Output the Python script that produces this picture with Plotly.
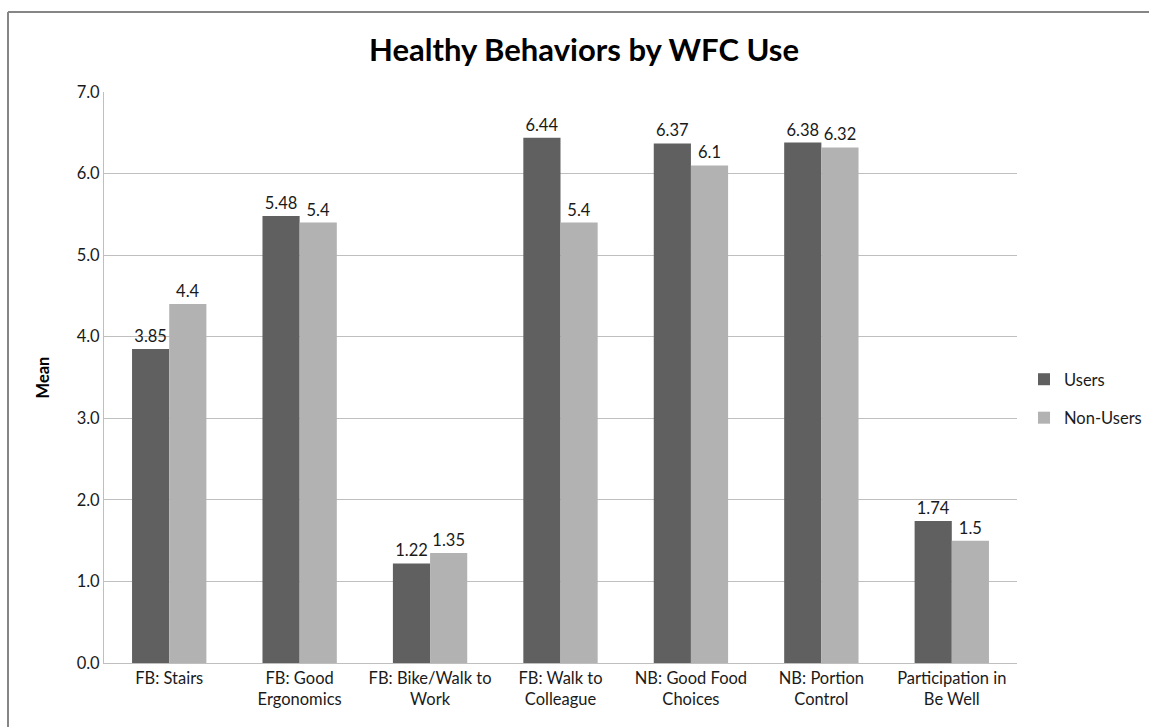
import plotly.graph_objects as go

categories = [
    "FB: Stairs",
    "FB: Good<br>Ergonomics",
    "FB: Bike/Walk to<br>Work",
    "FB: Walk to<br>Colleague",
    "NB: Good Food<br>Choices",
    "NB: Portion<br>Control",
    "Participation in<br>Be Well",
]
users = [3.85, 5.48, 1.22, 6.44, 6.37, 6.38, 1.74]
non_users = [4.4, 5.4, 1.35, 5.4, 6.1, 6.32, 1.5]
y_ticks = [0, 1, 2, 3, 4, 5, 6, 7]

W, H = 1149, 727
L, R, T, B = 104, 132, 92, 64
FONT = "Lato, Carlito, Calibri, sans-serif"
FS = 16.5

fig = go.Figure()
fig.add_trace(go.Bar(
    name="Users", x=categories, y=users, legendgroup="u",
    marker=dict(color="#606060", line=dict(width=0)),
    text=[f"{v:g}" for v in users], textposition="outside",
    textfont=dict(size=FS, color="#1a1a1a", family=FONT), cliponaxis=False,
))
fig.add_trace(go.Bar(
    name="Non-Users", x=categories, y=non_users, legendgroup="n",
    marker=dict(color="#b2b2b2", line=dict(width=0)),
    text=[f"{v:g}" for v in non_users], textposition="outside",
    textfont=dict(size=FS, color="#1a1a1a", family=FONT), cliponaxis=False,
))

pw = W - L - R
ph = H - T - B
def px(x):
    return (x - L) / pw
def py(y):
    return (H - B - y) / ph

fig.update_layout(
    width=W, height=H,
    margin=dict(l=L, r=R, t=T, b=B, autoexpand=False),
    paper_bgcolor="white", plot_bgcolor="white",
    barmode="group", bargap=0.43, bargroupgap=0,
    font=dict(family=FONT, color="#1a1a1a", size=FS),
    title=dict(text="<b>Healthy Behaviors by WFC Use</b>",
               x=584 / W, xanchor="center", y=1 - 50 / H, yanchor="middle",
               font=dict(size=31, color="#000000", family=FONT)),
    showlegend=True,
    legend=dict(x=px(1024), y=py(362), xanchor="left", yanchor="top",
                font=dict(size=FS, color="#1a1a1a", family=FONT),
                itemwidth=30, tracegroupgap=14, bgcolor="rgba(0,0,0,0)"),
    xaxis=dict(showline=True, linecolor="#bfbfbf", linewidth=1,
               ticks="", tickfont=dict(size=FS, color="#1a1a1a", family=FONT),
               showgrid=False),
    yaxis=dict(range=[0, 7], tickvals=y_ticks,
               ticktext=[f"{v:.1f}" for v in y_ticks],
               showline=True, linecolor="#bfbfbf", linewidth=1,
               gridcolor="#bfbfbf", gridwidth=1, ticks="",
               tickfont=dict(size=FS, color="#1a1a1a", family=FONT),
               title=dict(text="<b>Mean</b>", font=dict(size=FS, color="#000000", family=FONT),
                          standoff=22),
               zeroline=False),
    shapes=[
        dict(type="line", xref="paper", yref="paper",
             x0=px(8), x1=px(W + 5), y0=py(12), y1=py(12),
             line=dict(color="#868686", width=2)),
        dict(type="line", xref="paper", yref="paper",
             x0=px(8), x1=px(8), y0=py(12), y1=py(H + 5),
             line=dict(color="#868686", width=2)),
    ],
)

fig.write_html("out.html")
